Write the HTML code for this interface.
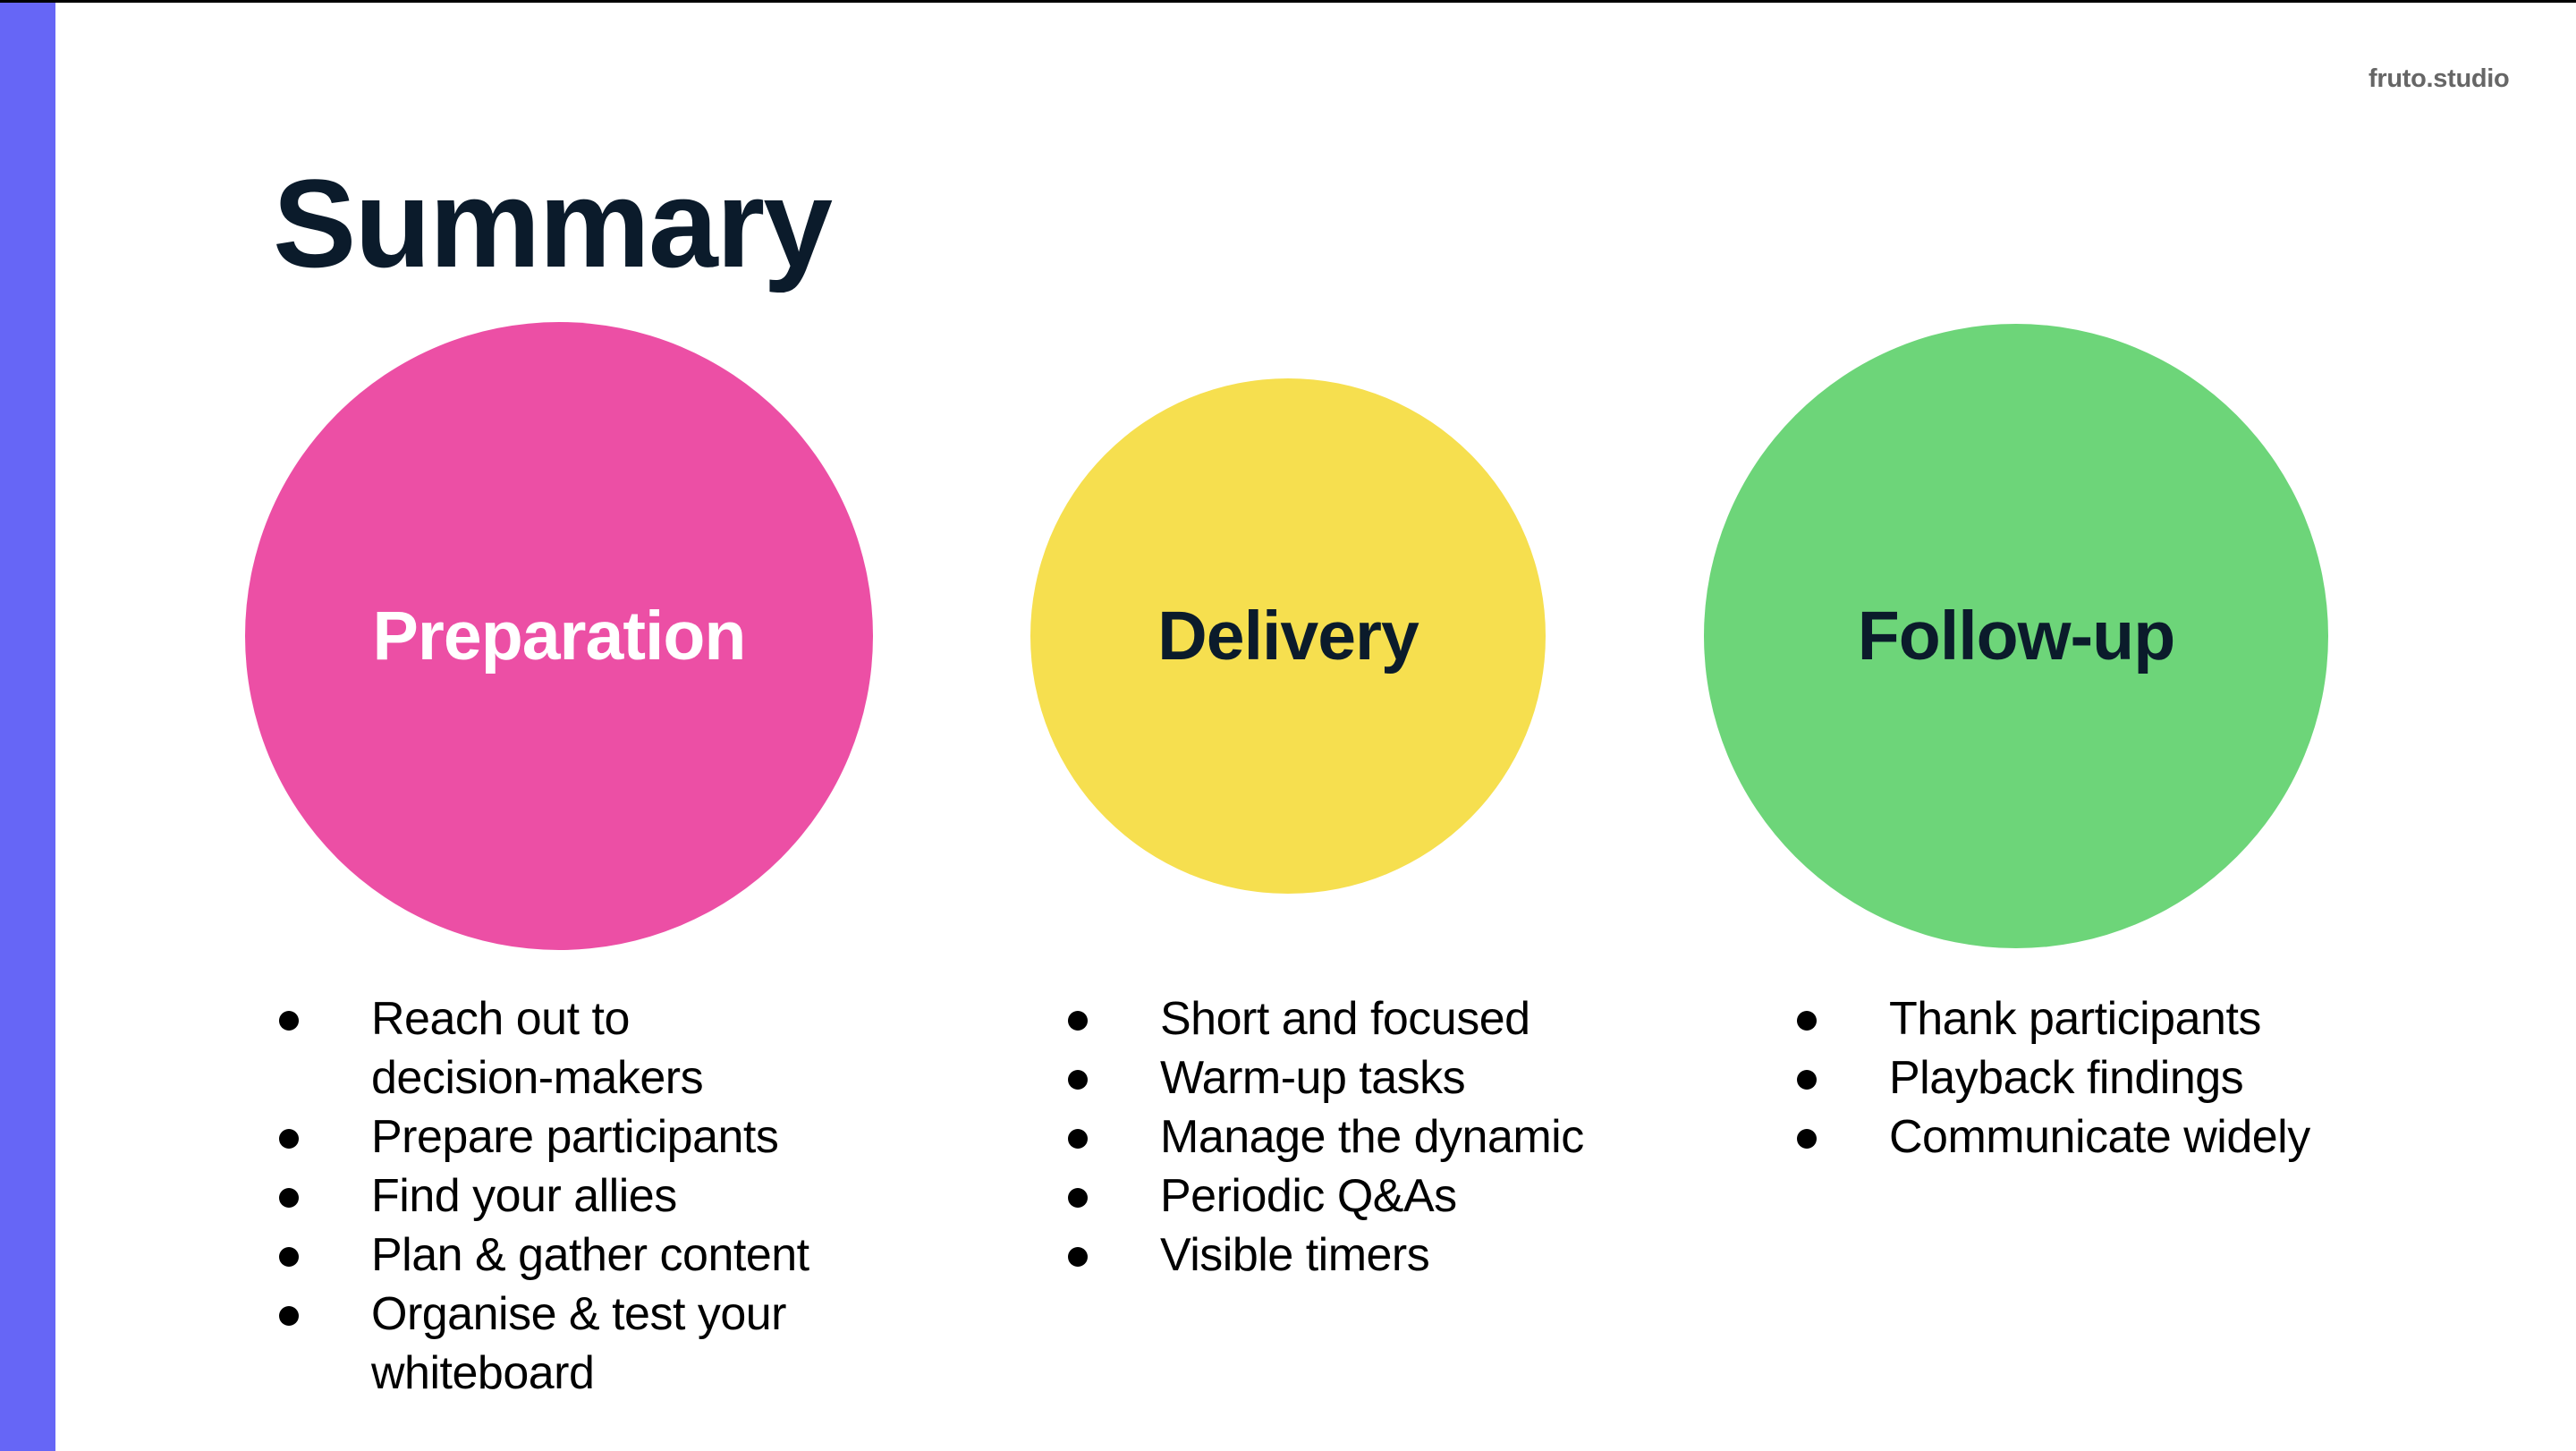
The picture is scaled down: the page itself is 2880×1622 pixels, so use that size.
<!DOCTYPE html>
<html><head><meta charset="utf-8"><style>
html,body{margin:0;padding:0}
body{width:2880px;height:1622px;position:relative;overflow:hidden;background:#fff;font-family:"Liberation Sans",sans-serif}
.top{position:absolute;left:0;top:0;width:2880px;height:3px;background:#000}
.bar{position:absolute;left:0;top:3px;width:62px;height:1619px;background:#6666F6}
.title{position:absolute;left:305px;top:170px;font-size:140px;font-weight:bold;color:#0B1B2B;letter-spacing:-2px;line-height:160px}
.brand{position:absolute;left:2648px;top:70px;font-size:29px;font-weight:bold;color:#666;line-height:36px;letter-spacing:-0.3px}
.c{position:absolute;border-radius:50%;display:flex;align-items:center;justify-content:center;font-weight:bold;font-size:77px;color:#0B1B2B;letter-spacing:-1px}
ul{position:absolute;margin:0;padding:0;list-style:none;font-size:52px;line-height:66px;color:#000;letter-spacing:-0.5px}
li{position:relative;padding-left:103px}
li:before{content:"";position:absolute;left:0;top:24px;width:22px;height:22px;border-radius:50%;background:#000}
</style></head><body>
<div class="top"></div><div class="bar"></div>
<div class="title">Summary</div>
<div class="brand">fruto.studio</div>
<div class="c" style="left:274px;top:360px;width:702px;height:702px;background:#EC4FA5;color:#fff">Preparation</div>
<div class="c" style="left:1152px;top:423px;width:576px;height:576px;background:#F6DF4F">Delivery</div>
<div class="c" style="left:1905px;top:362px;width:698px;height:698px;background:#6DD579">Follow-up</div>
<ul style="left:312px;top:1106px">
<li>Reach out to<br>decision-makers</li>
<li>Prepare participants</li>
<li>Find your allies</li>
<li>Plan &amp; gather content</li>
<li>Organise &amp; test your<br>whiteboard</li>
</ul>
<ul style="left:1194px;top:1106px">
<li>Short and focused</li>
<li>Warm-up tasks</li>
<li>Manage the dynamic</li>
<li>Periodic Q&amp;As</li>
<li>Visible timers</li>
</ul>
<ul style="left:2009px;top:1106px">
<li>Thank participants</li>
<li>Playback findings</li>
<li>Communicate widely</li>
</ul>
</body></html>
